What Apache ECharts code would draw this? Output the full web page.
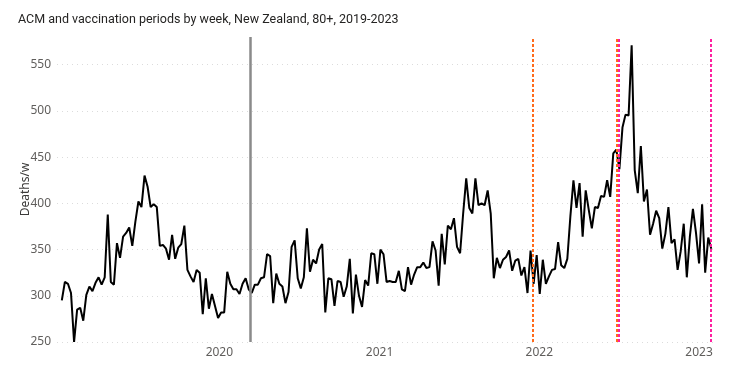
<!DOCTYPE html>
<html>
<head>
<meta charset="utf-8">
<title>ACM and vaccination periods by week, New Zealand, 80+</title>
<script src="https://cdn.jsdelivr.net/npm/echarts@6/dist/echarts.min.js"></script>
<style>
  html, body { margin: 0; padding: 0; background: #fff; }
  #chart { width: 729px; height: 375px; }
</style>
</head>
<body>
<div id="chart"></div>
<script>
// weekly deaths, 80+ (first week starts 2019-01-06)
const firstWeek = '2019-01-06';
const deaths2019 = [
  295, 315, 313, 303, 250, 285, 287, 273, 301, 310,
  305, 314, 320, 312, 320, 388, 315, 312, 357, 341,
  364, 368, 374, 354, 380, 402, 396, 430, 418, 396,
  399, 396, 354, 355, 351, 339, 366, 340, 352, 356,
  376, 328, 321, 315, 328, 325, 280, 319, 286, 302,
  289, 276,
];
const deaths2020 = [
  282, 282, 326, 313, 307, 307, 302, 313, 319, 307,
  303, 312, 312, 319, 320, 345, 343, 292, 324, 313,
  310, 292, 304, 353, 360, 319, 308, 320, 373, 326,
  339, 335, 350, 356, 282, 319, 318, 289, 316, 315,
  299, 310, 340, 281, 323, 300, 288, 317, 311, 346,
  345, 313,
];
const deaths2021 = [
  350, 345, 315, 316, 315, 315, 327, 307, 305, 331,
  312, 323, 331, 331, 336, 330, 331, 359, 349, 311,
  367, 334, 376, 372, 384, 353, 346, 389, 427, 395,
  389, 427, 398, 400, 398, 414, 389, 319, 341, 330,
  339, 342, 349, 327, 338, 340, 322, 331, 303, 349,
  313, 344,
];
const deaths2022 = [
  302, 339, 313, 321, 328, 329, 358, 333, 330, 340,
  386, 425, 395, 422, 364, 414, 393, 373, 396, 395,
  408, 407, 425, 407, 454, 458, 437, 482, 496, 495,
  571, 436, 411, 462, 402, 415, 366, 378, 392, 384,
  351, 367, 396, 357, 361, 328, 348, 378, 320, 364,
  394, 368, 335, 399, 325, 363, 351,
];

// x labels and the vertical period markers
const yearLabels = ['2020-01-01', '2021-01-01', '2022-01-01', '2023-01-01'];
const markerDates = ['2020-03-11', '2021-12-18', '2022-06-26', '2022-07-02', '2023-01-28'];
const markerColors = ['#8a8a8a', '#ff6a1a', '#ff6a1a', '#ff1fa0', '#ff1fa0'];
const markerSolid = [true, false, false, false, false];

const DAY = 24 * 3600 * 1000;
const toTs = (s) => {
  const [y, m, d] = s.split('-').map(Number);
  return Date.UTC(y, m - 1, d);
};

const weekly = [...deaths2019, ...deaths2020, ...deaths2021, ...deaths2022];
const start = toTs(firstWeek);
const seriesData = weekly.map((v, i) => [start + i * 7 * DAY, v]);

const chart = echarts.init(document.getElementById('chart'));

chart.setOption({
  animation: false,
  backgroundColor: '#fff',
  title: {
    text: 'ACM and vaccination periods by week, New Zealand, 80+, 2019-2023',
    left: 18,
    top: 13,
    padding: 0,
    textStyle: {
      fontFamily: 'Roboto',
      fontSize: 12.5,
      fontWeight: 'normal',
      color: '#252423',
    },
  },
  grid: { left: 57, right: 12, top: 37, bottom: 33 },
  xAxis: {
    type: 'value',
    min: toTs('2018-12-26'),
    max: toTs('2023-02-11'),
    axisLine: { show: false },
    axisTick: { show: false },
    splitLine: { show: false },
    axisLabel: {
      customValues: yearLabels.map(toTs),
      formatter: (v) => String(new Date(v).getUTCFullYear()),
      color: '#605e5c',
      fontFamily: 'Noto Sans',
      fontSize: 12,
      margin: 5,
    },
  },
  yAxis: {
    type: 'value',
    min: 250,
    max: 580,
    interval: 50,
    name: 'Deaths/w',
    nameLocation: 'middle',
    nameGap: 25,
    nameMoveOverlap: false,
    nameTextStyle: { color: '#3b3a39', fontFamily: 'Noto Sans', fontSize: 12 },
    axisLine: { show: false },
    axisTick: { show: false },
    axisLabel: {
      color: '#605e5c',
      fontFamily: 'Noto Sans',
      fontSize: 12,
      margin: 6,
      formatter: (v) => (v % 50 === 0 ? String(v) : ''),
    },
    splitLine: {
      showMaxLine: false,
      lineStyle: { color: '#dcdcdc', type: [1, 4], width: 1 },
    },
  },
  series: [
    {
      name: 'Deaths/w',
      type: 'line',
      data: seriesData,
      showSymbol: false,
      lineStyle: { color: '#000', width: 2 },
      z: 3,
      markLine: {
        silent: true,
        symbol: 'none',
        label: { show: false },
        data: markerDates.map((d, i) => ({
          xAxis: toTs(d),
          lineStyle: {
            color: markerColors[i],
            width: markerSolid[i] ? 2.5 : 2,
            type: markerSolid[i] ? 'solid' : [3, 2],
          },
        })),
      },
    },
  ],
});

window.addEventListener('resize', () => chart.resize());
</script>
</body>
</html>
